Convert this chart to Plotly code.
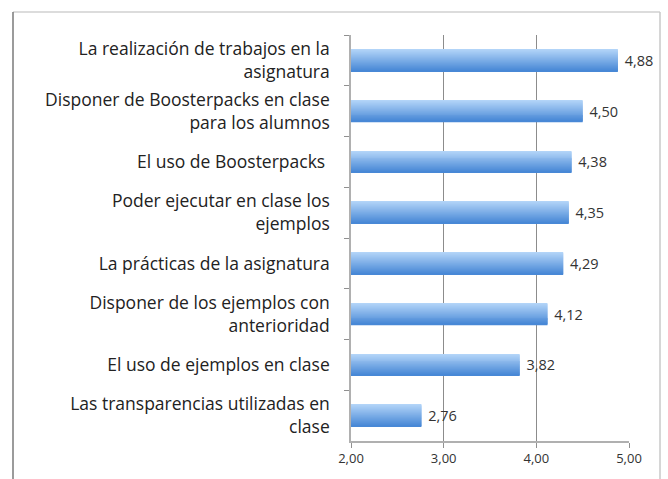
import plotly.graph_objects as go

categories = [
    "La realización de trabajos en la<br>asignatura",
    "Disponer de Boosterpacks en clase<br>para los alumnos",
    "El uso de Boosterpacks ",
    "Poder ejecutar en clase los<br>ejemplos",
    "La prácticas de la asignatura",
    "Disponer de los ejemplos con<br>anterioridad",
    "El uso de ejemplos en clase",
    "Las transparencias utilizadas en<br>clase",
]
values = [4.88, 4.50, 4.38, 4.35, 4.29, 4.12, 3.82, 2.76]
x_ticks = [2, 3, 4, 5]

BAR_W = 0.42
N = 22
top_c = (178, 212, 248)
bot_c = (72, 136, 214)

fig = go.Figure()
sw = BAR_W / N
for k in range(N):
    t = k / (N - 1)
    c = tuple(round(top_c[i] + (bot_c[i] - top_c[i]) * t) for i in range(3))
    fig.add_trace(go.Bar(
        x=values, y=categories, orientation="h",
        width=sw * 1.6, offset=-BAR_W / 2 + k * sw,
        marker=dict(color="rgb(%d,%d,%d)" % c, line=dict(width=0)),
        hoverinfo="skip", showlegend=False,
    ))
# value labels (transparent carrier)
fig.add_trace(go.Bar(
    x=values, y=categories, orientation="h",
    width=BAR_W, offset=-BAR_W / 2,
    marker=dict(color="rgba(0,0,0,0)", line=dict(width=0)),
    texttemplate=" %{x:.2f}", textposition="outside",
    textfont=dict(family="Open Sans", size=14.5, color="#333333"),
    cliponaxis=False, hoverinfo="skip", showlegend=False,
))

L, R, T, B = 351, 39, 35, 38
W, H = 668, 479
pw, ph = W - L - R, H - T - B

def px(x):
    return (x - L) / pw

def py(y):
    return (H - B - y) / ph

shapes = [
    dict(type="line", xref="paper", yref="paper", x0=px(13), x1=px(660), y0=py(12), y1=py(12),
         line=dict(color="#d0d0d0", width=1.5)),
    dict(type="line", xref="paper", yref="paper", x0=px(13), x1=px(13), y0=py(12), y1=py(490),
         line=dict(color="#7a7a7a", width=1.5)),
    dict(type="line", xref="paper", yref="paper", x0=px(660), x1=px(660), y0=py(12), y1=py(490),
         line=dict(color="#c8c8c8", width=1.5)),
]

fig.update_layout(
    width=W, height=H,
    margin=dict(l=L, r=R, t=T, b=B, pad=0),
    paper_bgcolor="white", plot_bgcolor="white",
    barmode="overlay",
    separators=",.",
    font=dict(family="Open Sans", color="#222222"),
    shapes=shapes,
    showlegend=False,
)
fig.update_xaxes(
    range=[2, 5], tickvals=x_ticks, tickformat=".2f",
    showgrid=True, gridcolor="#8c8c8c", gridwidth=1,
    showline=True, linecolor="#b0b0b0", linewidth=1.5,
    ticks="outside", ticklen=5, tickcolor="#909090",
    tickfont=dict(family="Open Sans", size=13, color="#333333"),
    zeroline=False,
)
fig.update_yaxes(
    autorange="reversed", categoryorder="array", categoryarray=categories,
    showline=True, linecolor="#b0b0b0", linewidth=1.5,
    ticks="outside", ticklen=5, tickcolor="#909090", tickson="boundaries",
    tickfont=dict(family="Open Sans", size=17.5, color="#222222"),
    ticklabelstandoff=16,
    showgrid=False,
)

fig.write_html("out.html", config={"displayModeBar": False},
               post_script="document.body.style.margin='0';")
